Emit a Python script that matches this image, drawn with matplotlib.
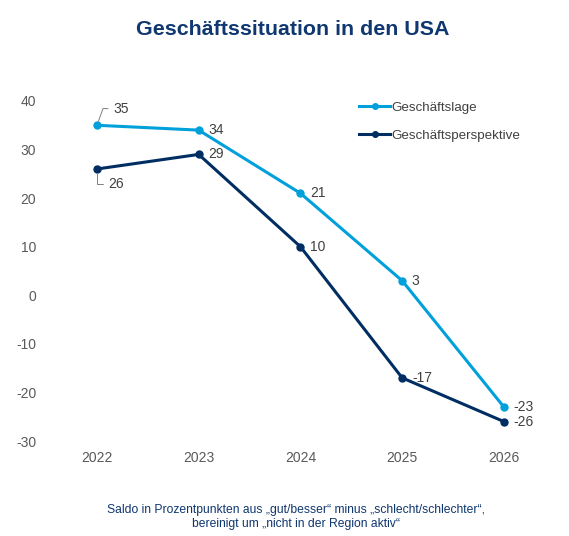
import matplotlib.pyplot as plt

plt.rcParams['font.family'] = ['Liberation Sans', 'DejaVu Sans']
plt.rcParams['axes.unicode_minus'] = False

years = ["2022", "2023", "2024", "2025", "2026"]
lage = [35, 34, 21, 3, -23]
perspektive = [26, 29, 10, -17, -26]

light = "#00A0DA"
dark = "#002D62"

fig = plt.figure(figsize=(5.69, 5.36), dpi=100)
ax = fig.add_axes([0.081, 0.1772, 0.894, 0.6344])

x = range(len(years))
ax.plot(x, lage, color=light, lw=2.2, marker="o", ms=5, label="Geschäftslage")
ax.plot(x, perspektive, color=dark, lw=2.2, marker="o", ms=5, label="Geschäftsperspektive")

# data labels
for i, v in enumerate(lage):
    if i == 0:
        ax.annotate(str(v), (i, v), xytext=(12, 12), textcoords="offset points",
                    fontsize=10, color="#404040", va="center",
                    arrowprops=dict(arrowstyle="-", color="#808080", lw=0.7,
                                    connectionstyle="angle,angleA=0,angleB=70,rad=0",
                                    shrinkA=2, shrinkB=3))
    else:
        ax.annotate(str(v), (i, v), xytext=(7, 0), textcoords="offset points",
                    fontsize=10, color="#404040", va="center")
for i, v in enumerate(perspektive):
    if i == 0:
        ax.annotate(str(v), (i, v), xytext=(8, -11), textcoords="offset points",
                    fontsize=10, color="#404040", va="center",
                    arrowprops=dict(arrowstyle="-", color="#808080", lw=0.7,
                                    connectionstyle="angle,angleA=0,angleB=90,rad=0",
                                    shrinkA=2, shrinkB=3))
    else:
        ax.annotate(str(v), (i, v), xytext=(7, 0), textcoords="offset points",
                    fontsize=10, color="#404040", va="center")

ax.set_xlim(-0.5, 4.5)
ax.set_ylim(-30, 40)
ax.set_yticks(range(-30, 41, 10))
ax.set_xticks(list(x))
ax.set_xticklabels(years)
for s in ax.spines.values():
    s.set_visible(False)
ax.tick_params(length=0, labelsize=10, labelcolor="#595959")
ax.tick_params(axis="y", pad=7)
ax.tick_params(axis="x", pad=7)

ax.legend(loc="upper left", bbox_to_anchor=(0.592, 1.033), frameon=False, fontsize=9.6,
          labelcolor="#404040", handlelength=2.3, labelspacing=1.15, handletextpad=0.1,
          markerscale=0.8)

fig.text(0.515, 0.945, "Geschäftssituation in den USA", ha="center", va="center",
         fontsize=15.4, fontweight="bold", color="#0F3770")
fig.text(0.52, 0.035, "Saldo in Prozentpunkten aus \u201egut/besser\u201c minus \u201eschlecht/schlechter\u201c,\nbereinigt um \u201enicht in der Region aktiv\u201c",
         ha="center", va="center", fontsize=8.7, color="#0F3770", linespacing=1.2)

fig.savefig("out.png", dpi=100)
